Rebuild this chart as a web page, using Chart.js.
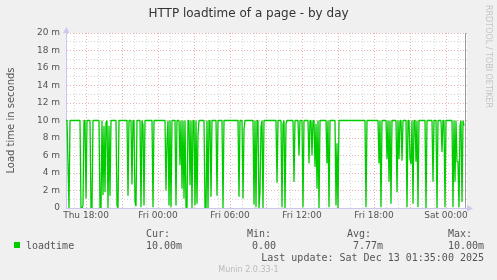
<!DOCTYPE html>
<html><head><meta charset="utf-8">
<script src="https://cdn.jsdelivr.net/npm/chart.js@4/dist/chart.umd.min.js"></script>
<style>html,body{margin:0;padding:0;background:#F0F0F0;}canvas{display:block;}</style>
</head><body>
<canvas id="c" width="497" height="280"></canvas>
<script>
// ---- data ----
const chartTitle = 'HTTP loadtime of a page - by day';
const yAxisTitle = 'Load time in seconds';
const seriesName = 'loadtime';
const startMinute = 980;          // Thu 16:20 (minutes since Thu 00:00)
const stepMinutes = 5;            // one sample every 5 minutes
const lastUpdateMinute = 2975;    // Sat 01:35
const loadtimeMs = [
 10,10,5,0,10,10,10,10,10,10,10,10,10,10,10,0,0,0.3,10,10,
 1.1,10,10,10,10,0,0,10,10,10,10,10,10,10,0,0,10,1.5,9.4,1.8,
 9.8,10,0,9.4,1.4,10,10,10,10,10,10,0.3,0,10,10,10,10,10,10,10,
 10,10,1.4,10,10,10,2.7,10,10,0.7,0.2,10,10,10,10,0.1,10,9.5,0.3,10,
 10,10,10,10,10,10,10,0.1,10,10,10,10,10,10,10,10,10,10,10,10,
 2.0,7.6,10,0.3,10,0.1,10,10,10,10,0.3,10,10,10,4.9,10,2.2,10,1.1,10,
 0.1,0,10,10,2.6,10,0,10,10,0.3,10,0.5,8.3,10,10,10,10,10,10,0,
 0,10,0,10,10,1.3,10,10,10,10,10,1.4,10,10,10,10,10,0,10,10,
 10,10,10,10,10,10,10,10,10,10,10,10,10,1.3,10,10,10,1.1,9.0,10,
 10,10,10,10,10,10,10,10,0.4,10,0.1,10,10,0,1.8,9.3,10,0,10,10,
 10,10,10,10,10,10,10,10,10,10,10,2.9,10,10,10,10,0.1,9.6,10,0,
 9.6,10,10,10,10,10,10,10,3.0,10,10,10,10,6.0,10,10,10,0.1,10,10,
 10,10,10,5.1,10,10,6.0,10,10,4.7,9.6,2.2,10,0,10,10,10,10,10,10,
 10,5.1,10,0.1,10,10,10,10,10,10,0.3,7.4,0,10,10,10,10,10,10,10,
 10,10,10,10,10,10,10,10,10,10,10,10,10,10,10,10,10,10,10,10,
 0.1,10,10,10,10,10,10,10,10,10,10,10,10,5.1,10,0.1,10,10,10,10,
 10,5.6,10,3.0,10,0.5,10,10,10,10,10,1.8,10,5.6,10,10,5.4,10,10,10,
 10,0.1,10,10,5.6,5.0,10,0.5,10,10,5.3,10,0.1,10,10,10,10,10,10,10,
 0,10,10,10,10,10,10,3.0,10,10,10,0,10,10,10,10,6.4,10,10,0.1,
 10,10,10,10,10,10,10,0.1,10,3.0,10,5.3,5.3,0.1,9.4,10,0.7,10,9.4
];
const yTickValues = [0,1,2,3,4,5,6,7,8,9,10,11,12,13,14,15,16,17,18,19,20];
const yTickLabels = ['0','','2 m','','4 m','','6 m','','8 m','','10 m','','12 m','','14 m','','16 m','','18 m','','20 m'];
const xHourTicks = [1020,1080,1140,1200,1260,1320,1380,1440,1500,1560,1620,1680,1740,1800,1860,1920,1980,2040,2100,2160,2220,2280,2340,2400,2460,2520,2580,2640,2700,2760,2820,2880,2940];
const xTickMinutes = [1080,1440,1800,2160,2520,2880];
const xTickLabels = ['Thu 18:00','Fri 00:00','Fri 06:00','Fri 12:00','Fri 18:00','Sat 00:00'];
const legendHeaders = ['Cur:','Min:','Avg:','Max:'];
const legendValues = ['10.00m','0.00','7.77m','10.00m'];
const lastUpdateText = 'Last update: Sat Dec 13 01:35:00 2025';
const footerText = 'Munin 2.0.33-1';
const watermarkText = 'RRDTOOL / TOBI OETIKER';

// ---- styling ----
const lineColor = '#00CC00';
const majorGrid = '#EBB2B2';
const minorGrid = '#D8D8D8';
const axisColor = '#C8C8F2';
const textColor = '#555555';

const points = loadtimeMs.map((v, i) => ({x: startMinute + i * stepMinutes, y: v}));

const munin = {
  id: 'munin',
  beforeDraw(chart) {
    const {ctx, chartArea: a} = chart;
    ctx.save();
    ctx.fillStyle = '#F0F0F0';
    ctx.fillRect(0, 0, chart.width, chart.height);
    ctx.fillStyle = '#FFFFFF';
    ctx.fillRect(a.left, a.top, a.right - a.left, a.bottom - a.top);
    ctx.restore();
  },
  afterDatasetsDraw(chart) {
    const {ctx, chartArea: a, scales} = chart;
    const xn = Math.round(scales.x.getPixelForValue(lastUpdateMinute)) + 0.5;
    ctx.save();
    ctx.strokeStyle = '#9A9A9A';
    ctx.lineWidth = 1;
    ctx.beginPath(); ctx.moveTo(xn, a.top); ctx.lineTo(xn, a.bottom); ctx.stroke();
    ctx.restore();
  },
  afterDraw(chart) {
    const {ctx, chartArea: a} = chart;
    ctx.save();
    // axis arrows
    ctx.fillStyle = axisColor;
    ctx.beginPath(); ctx.moveTo(a.left - 3, a.top); ctx.lineTo(a.left + 3.5, a.top); ctx.lineTo(a.left + 0.5, a.top - 6); ctx.closePath(); ctx.fill();
    ctx.beginPath(); ctx.moveTo(a.right, a.bottom - 3); ctx.lineTo(a.right, a.bottom + 3.5); ctx.lineTo(a.right + 6, a.bottom + 0.5); ctx.closePath(); ctx.fill();
    // title
    ctx.fillStyle = '#333333';
    ctx.font = '12px "DejaVu Sans"';
    ctx.textAlign = 'center';
    ctx.textBaseline = 'alphabetic';
    ctx.fillText(chartTitle, chart.width / 2, 17);
    // legend
    ctx.fillStyle = lineColor;
    ctx.fillRect(14, 242, 6, 6);
    ctx.fillStyle = textColor;
    ctx.font = '10px "DejaVu Sans Mono"';
    ctx.textAlign = 'left';
    ctx.fillText(seriesName, 26, 248.5);
    const hx = [146, 247, 347, 448];
    const vx = [146, 252, 353, 448];
    legendHeaders.forEach((h, i) => ctx.fillText(h, hx[i], 236.5));
    legendValues.forEach((v, i) => ctx.fillText(v, vx[i], 248.5));
    ctx.textAlign = 'right';
    ctx.fillText(lastUpdateText, 484, 261);
    // footer
    ctx.fillStyle = '#BBBBBB';
    ctx.font = '8px "DejaVu Sans"';
    ctx.textAlign = 'center';
    ctx.fillText(footerText, 248.5, 272);
    // watermark
    ctx.fillStyle = '#C4C4C4';
    ctx.font = '8px "DejaVu Sans"';
    ctx.textAlign = 'left';
    ctx.translate(486, 5);
    ctx.rotate(Math.PI / 2);
    ctx.fillText(watermarkText, 0, 0);
    ctx.restore();
  }
};

new Chart(document.getElementById('c').getContext('2d'), {
  type: 'line',
  data: {datasets: [{label: seriesName, data: points, borderColor: lineColor, borderWidth: 1.3,
    borderJoinStyle: 'bevel', borderCapStyle: 'butt',
    pointRadius: 0, tension: 0, fill: false}]},
  options: {
    responsive: false, animation: false, devicePixelRatio: 1,
    layout: {padding: {left: 0, right: 30, top: 33, bottom: 0}},
    plugins: {legend: {display: false}, tooltip: {enabled: false}, title: {display: false}},
    scales: {
      x: {
        type: 'linear', min: 980, max: 2985,
        afterBuildTicks: s => { s.ticks = xHourTicks.map(v => ({value: v})); },
        afterFit: s => { s.height = 72; },
        ticks: {autoSkip: false, maxRotation: 0, minRotation: 0, padding: 2, color: textColor,
          font: {family: 'DejaVu Sans', size: 9},
          callback: v => { const k = xTickMinutes.indexOf(v); return k >= 0 ? xTickLabels[k] : ''; }},
        grid: {drawTicks: false, lineWidth: 1, color: c => (c.tick && c.tick.value % 180 === 0) ? majorGrid : minorGrid},
        border: {display: true, color: axisColor, width: 1, dash: [1, 2]}
      },
      y: {
        min: 0, max: 20,
        afterBuildTicks: s => { s.ticks = yTickValues.map(v => ({value: v})); },
        afterFit: s => { s.width = 66; },
        ticks: {autoSkip: false, padding: 6, color: textColor, font: {family: 'DejaVu Sans', size: 9},
          callback: v => { const k = yTickValues.indexOf(v); return k >= 0 ? yTickLabels[k] : ''; }},
        grid: {drawTicks: false, lineWidth: 1, color: c => (c.tick && c.tick.value % 2 === 0) ? majorGrid : minorGrid},
        border: {display: true, color: axisColor, width: 1, dash: [1, 2]},
        title: {display: true, text: yAxisTitle, color: textColor, font: {family: 'DejaVu Sans', size: 10},
          padding: {top: 5, bottom: 0}}
      }
    }
  },
  plugins: [munin]
});
</script>
</body></html>
